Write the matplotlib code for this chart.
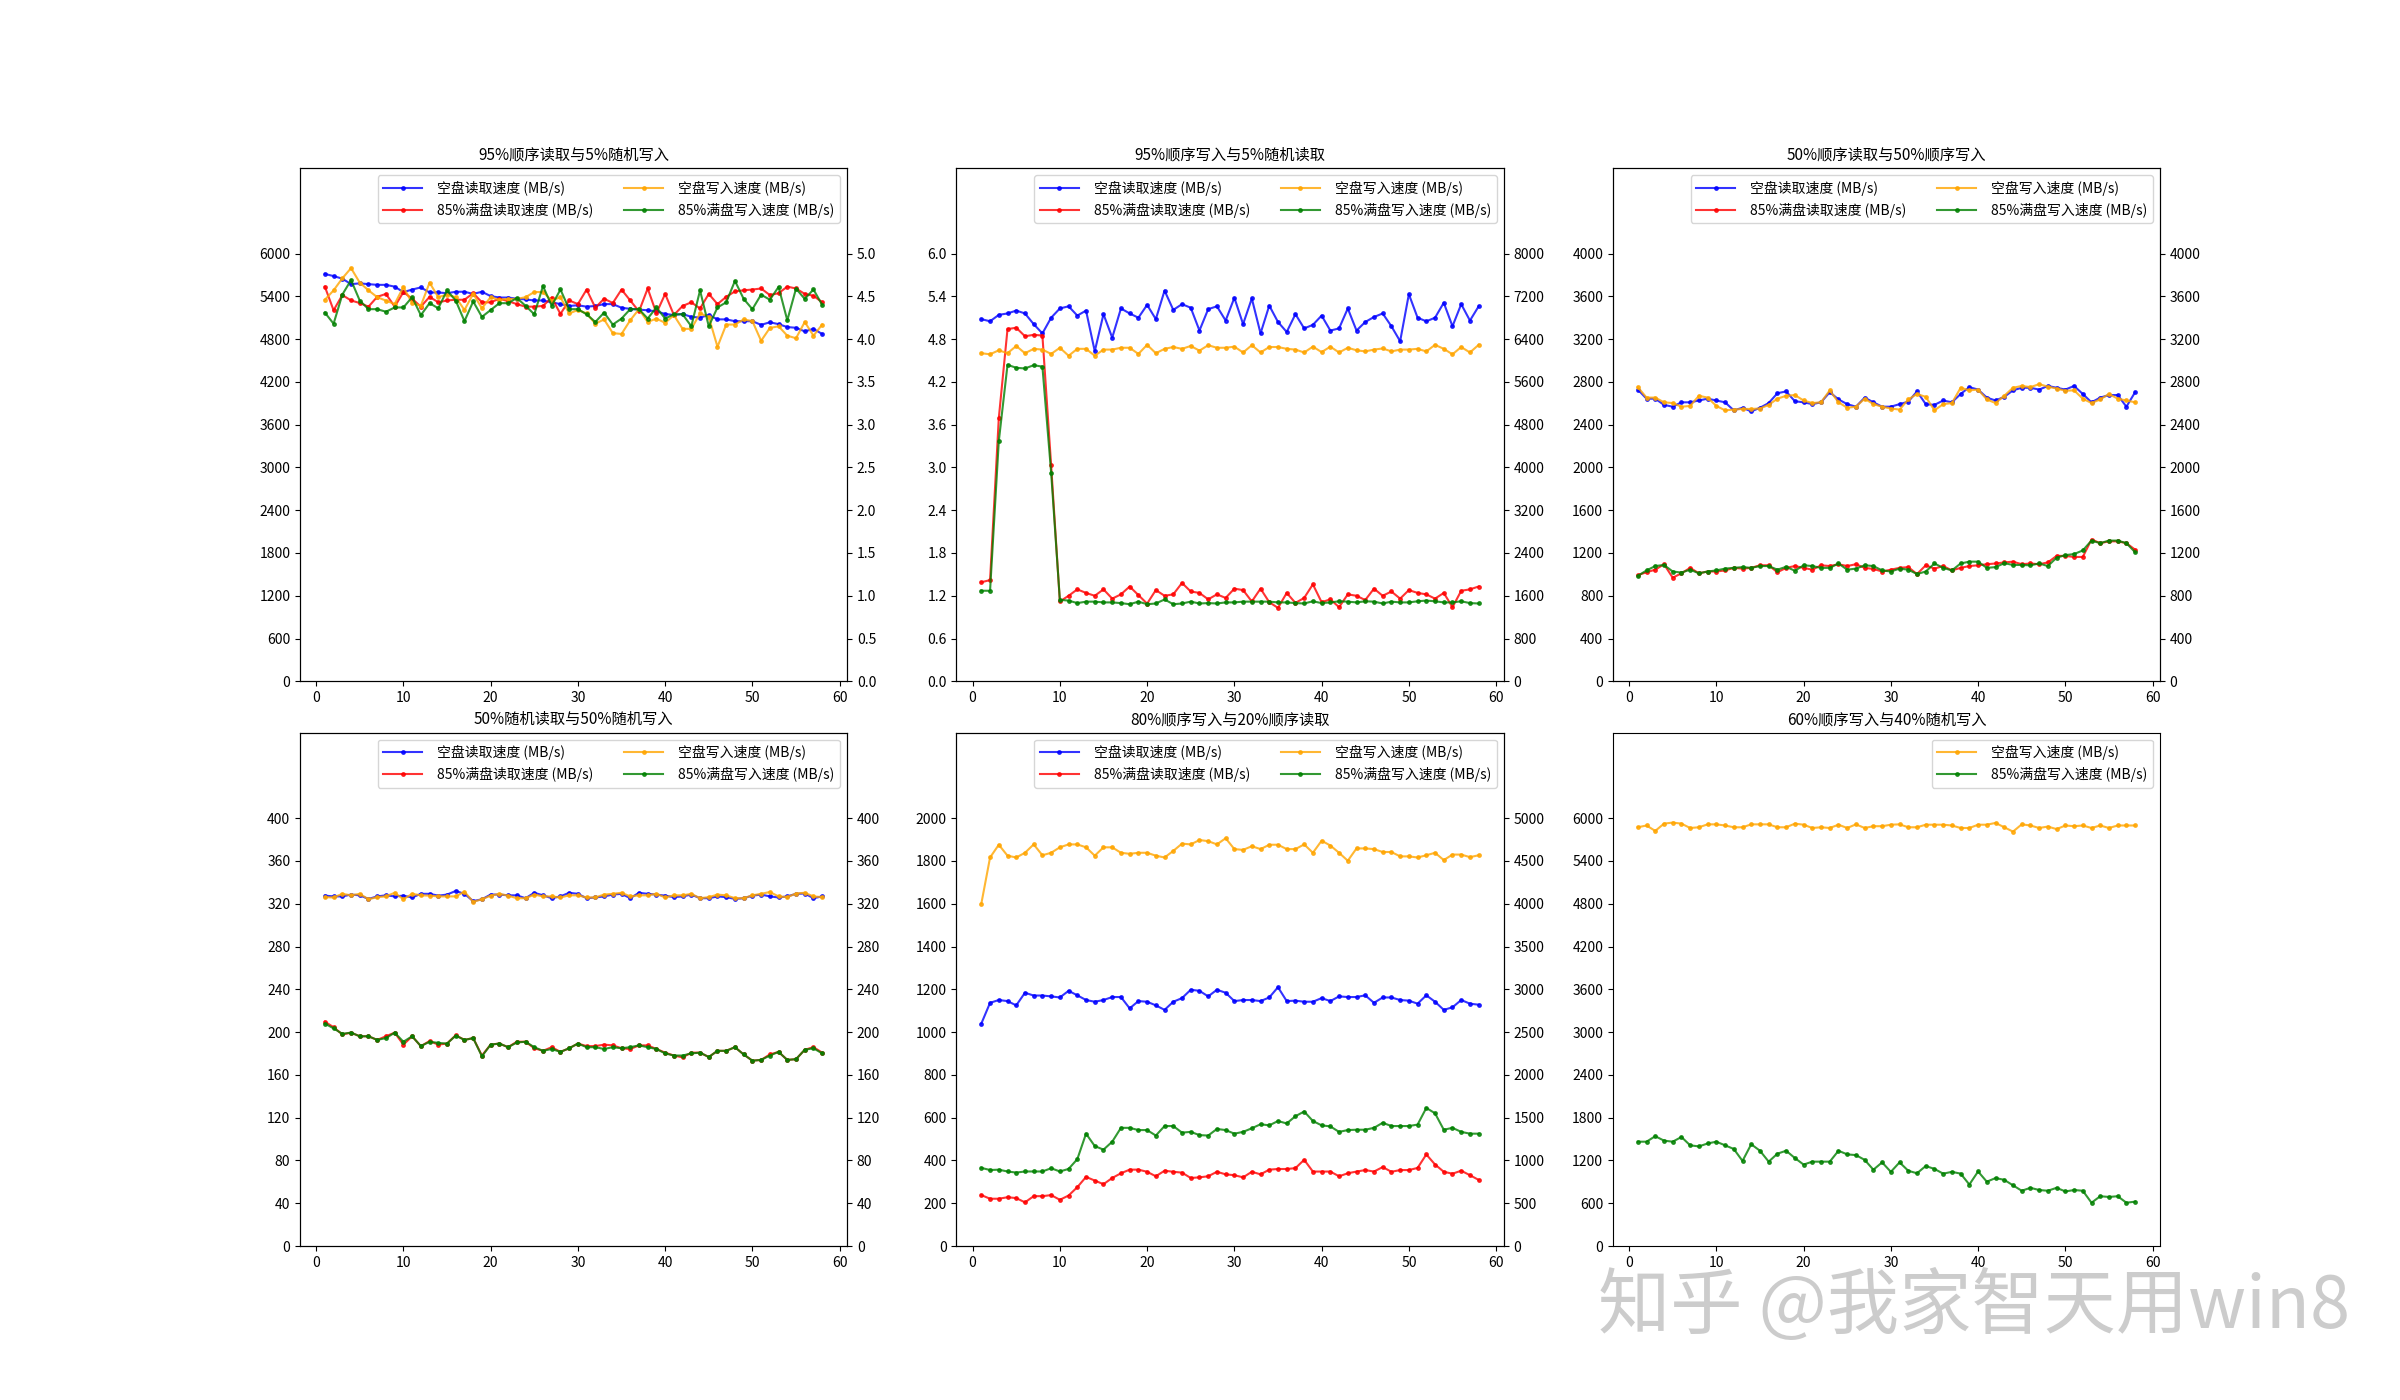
#SSD read / write speed over 58 test rounds, six mixed workloads

import numpy as np
from matplotlib import pyplot as plt

plt.rcParams['font.family'] = ['Noto Sans CJK SC', 'DejaVu Sans']
plt.rcParams['axes.unicode_minus'] = False

rounds = list(range(1, 59))

label_empty_read = "空盘读取速度 (MB/s)"
label_full_read = "85%满盘读取速度 (MB/s)"
label_empty_write = "空盘写入速度 (MB/s)"
label_full_write = "85%满盘写入速度 (MB/s)"

titles = ["95%顺序读取与5%随机写入", "95%顺序写入与5%随机读取", "50%顺序读取与50%顺序写入",
          "50%随机读取与50%随机写入", "80%顺序写入与20%顺序读取", "60%顺序写入与40%随机写入"]

#95% sequential read, 5% random write
p1_empty_read = [5714, 5684, 5648, 5571, 5582, 5571, 5561, 5561, 5536, 5459,
                 5495, 5525, 5454, 5454, 5444, 5464, 5464, 5434, 5464, 5403,
                 5383, 5383, 5367, 5357, 5342, 5342, 5316, 5291, 5265, 5275,
                 5255, 5265, 5291, 5291, 5240, 5224, 5214, 5204, 5189, 5153,
                 5138, 5153, 5112, 5102, 5138, 5077, 5077, 5051, 5051, 5051,
                 5000, 5036, 5010, 4969, 4959, 4908, 4944, 4872]
p1_full_read = [5536, 5204, 5418, 5342, 5306, 5255, 5393, 5434, 5255, 5459,
                5367, 5255, 5393, 5316, 5342, 5352, 5352, 5444, 5316, 5316,
                5367, 5332, 5291, 5255, 5255, 5265, 5383, 5153, 5342, 5291,
                5495, 5240, 5367, 5306, 5495, 5342, 5189, 5510, 5163, 5434,
                5138, 5265, 5316, 5230, 5434, 5291, 5393, 5469, 5485, 5495,
                5510, 5418, 5444, 5536, 5510, 5434, 5408, 5316]
p1_empty_write = [4.46, 4.57, 4.71, 4.83, 4.66, 4.57, 4.49, 4.45, 4.41, 4.61,
                  4.42, 4.39, 4.66, 4.49, 4.52, 4.49, 4.34, 4.53, 4.36, 4.49,
                  4.46, 4.47, 4.47, 4.49, 4.55, 4.55, 4.45, 4.49, 4.30, 4.34,
                  4.30, 4.18, 4.23, 4.07, 4.06, 4.22, 4.35, 4.20, 4.24, 4.19,
                  4.28, 4.12, 4.12, 4.30, 4.26, 3.91, 4.17, 4.17, 4.23, 4.21,
                  3.98, 4.13, 4.15, 4.04, 4.01, 4.20, 4.04, 4.17]
p1_full_write = [4.31, 4.18, 4.52, 4.69, 4.45, 4.35, 4.35, 4.32, 4.37, 4.37,
                 4.49, 4.28, 4.42, 4.36, 4.57, 4.45, 4.21, 4.44, 4.26, 4.34,
                 4.42, 4.42, 4.48, 4.39, 4.29, 4.62, 4.39, 4.58, 4.35, 4.35,
                 4.29, 4.20, 4.31, 4.17, 4.24, 4.35, 4.35, 4.24, 4.37, 4.24,
                 4.29, 4.29, 4.15, 4.57, 4.15, 4.37, 4.43, 4.68, 4.47, 4.35,
                 4.52, 4.46, 4.61, 4.22, 4.59, 4.47, 4.58, 4.40]

#95% sequential write, 5% random read
p2_empty_read = [5.08, 5.05, 5.14, 5.16, 5.20, 5.16, 5.01, 4.88, 5.10, 5.23,
                 5.26, 5.13, 5.20, 4.63, 5.15, 4.82, 5.23, 5.16, 5.10, 5.28,
                 5.08, 5.48, 5.21, 5.29, 5.24, 4.92, 5.22, 5.26, 5.06, 5.38,
                 5.01, 5.37, 4.88, 5.27, 5.04, 4.90, 5.15, 4.95, 5.00, 5.13,
                 4.92, 4.95, 5.23, 4.92, 5.04, 5.11, 5.16, 4.98, 4.77, 5.43,
                 5.10, 5.05, 5.10, 5.31, 4.98, 5.29, 5.06, 5.26]
p2_full_read = [1.39, 1.42, 3.69, 4.94, 4.96, 4.84, 4.86, 4.85, 3.03, 1.12,
                1.20, 1.29, 1.24, 1.20, 1.29, 1.16, 1.22, 1.33, 1.21, 1.09,
                1.28, 1.20, 1.22, 1.38, 1.26, 1.24, 1.15, 1.22, 1.17, 1.30,
                1.28, 1.12, 1.30, 1.11, 1.03, 1.24, 1.10, 1.17, 1.36, 1.11,
                1.15, 1.04, 1.22, 1.20, 1.14, 1.30, 1.20, 1.26, 1.16, 1.28,
                1.24, 1.22, 1.16, 1.24, 1.04, 1.27, 1.29, 1.33]
p2_empty_write = [6136, 6116, 6191, 6136, 6272, 6136, 6218, 6204, 6123, 6238,
                  6089, 6218, 6218, 6089, 6204, 6204, 6238, 6238, 6123, 6293,
                  6136, 6218, 6252, 6218, 6272, 6184, 6286, 6238, 6238, 6259,
                  6150, 6286, 6150, 6252, 6252, 6218, 6204, 6150, 6259, 6157,
                  6259, 6150, 6238, 6191, 6170, 6204, 6225, 6170, 6204, 6204,
                  6218, 6170, 6293, 6218, 6116, 6252, 6150, 6293]
p2_full_write = [1694, 1694, 4490, 5919, 5864, 5851, 5912, 5885, 3905, 1524,
                 1510, 1463, 1490, 1490, 1476, 1476, 1463, 1442, 1490, 1442,
                 1456, 1531, 1442, 1456, 1490, 1456, 1463, 1456, 1476, 1476,
                 1490, 1490, 1490, 1490, 1476, 1476, 1463, 1456, 1497, 1463,
                 1476, 1497, 1490, 1476, 1497, 1490, 1456, 1490, 1476, 1476,
                 1497, 1510, 1497, 1476, 1476, 1497, 1463, 1456]

#50% sequential read, 50% sequential write
p3_empty_read = [2728, 2643, 2643, 2585, 2568, 2609, 2609, 2626, 2643, 2626,
                 2609, 2534, 2558, 2524, 2558, 2602, 2694, 2711, 2619, 2609,
                 2592, 2609, 2704, 2636, 2592, 2568, 2653, 2609, 2568, 2568,
                 2592, 2615, 2711, 2592, 2585, 2626, 2609, 2687, 2751, 2728,
                 2653, 2626, 2660, 2721, 2745, 2745, 2728, 2762, 2745, 2728,
                 2762, 2687, 2609, 2653, 2677, 2677, 2568, 2704]
p3_full_read = [993, 1020, 1044, 1095, 969, 1010, 1061, 1010, 1027, 1027,
                1037, 1061, 1054, 1061, 1085, 1085, 1020, 1061, 1078, 1061,
                1044, 1085, 1078, 1095, 1078, 1095, 1061, 1051, 1027, 1044,
                1061, 1068, 1003, 1085, 1054, 1078, 1037, 1061, 1078, 1085,
                1095, 1102, 1112, 1119, 1095, 1102, 1095, 1112, 1173, 1173,
                1163, 1163, 1326, 1292, 1309, 1309, 1292, 1231]
p3_empty_write = [2751, 2653, 2653, 2609, 2602, 2568, 2575, 2670, 2653, 2575,
                  2534, 2541, 2547, 2547, 2551, 2585, 2643, 2670, 2677, 2626,
                  2602, 2609, 2721, 2609, 2558, 2568, 2643, 2592, 2568, 2551,
                  2541, 2636, 2687, 2660, 2534, 2592, 2602, 2745, 2721, 2728,
                  2636, 2602, 2670, 2745, 2762, 2751, 2779, 2755, 2738, 2717,
                  2721, 2643, 2602, 2636, 2687, 2643, 2626, 2609]
p3_full_write = [986, 1037, 1078, 1088, 1027, 1017, 1044, 1010, 1027, 1037,
                 1054, 1061, 1068, 1061, 1078, 1078, 1044, 1071, 1034, 1085,
                 1078, 1061, 1061, 1102, 1044, 1054, 1085, 1078, 1037, 1027,
                 1054, 1044, 1003, 1027, 1102, 1061, 1037, 1102, 1119, 1119,
                 1061, 1068, 1105, 1088, 1088, 1085, 1102, 1078, 1156, 1180,
                 1190, 1224, 1316, 1292, 1316, 1316, 1292, 1207]

#50% random read, 50% random write
p4_empty_read = [327.6, 326.9, 326.9, 328.6, 327.9, 324.5, 326.9, 327.9, 326.9, 327.6,
                 325.9, 329.3, 329.3, 327.6, 328.6, 332.0, 329.3, 322.5, 324.2, 328.6,
                 328.6, 327.9, 327.9, 325.2, 330.3, 327.9, 325.2, 326.9, 330.3, 329.3,
                 325.2, 325.9, 326.9, 328.6, 329.3, 325.2, 330.3, 329.3, 328.6, 327.6,
                 326.2, 326.9, 328.6, 325.2, 325.2, 326.9, 326.2, 324.5, 325.2, 327.6,
                 328.6, 326.9, 325.9, 326.9, 329.3, 329.6, 325.2, 326.9]
p4_full_read = [209.7, 204.6, 197.8, 199.5, 196.1, 196.1, 192.7, 196.1, 199.5, 188.3,
                196.1, 186.9, 191.6, 188.3, 189.3, 197.1, 192.7, 194.4, 178.1, 188.3,
                189.3, 185.9, 191.0, 191.0, 184.9, 182.5, 185.9, 181.5, 184.9, 189.3,
                186.9, 186.9, 188.3, 187.6, 184.9, 184.2, 187.6, 187.6, 184.2, 180.8,
                178.1, 176.4, 180.8, 180.8, 176.7, 182.5, 182.5, 185.9, 179.1, 173.3,
                174.0, 179.1, 181.5, 174.0, 174.7, 183.5, 185.9, 180.8]
p4_empty_write = [326.2, 325.9, 329.3, 327.9, 329.3, 324.2, 326.2, 326.9, 330.3, 324.2,
                  329.3, 327.9, 327.6, 326.9, 326.9, 326.9, 331.3, 321.8, 324.2, 327.6,
                  329.3, 327.6, 325.2, 325.2, 328.6, 326.9, 326.9, 325.9, 327.9, 327.9,
                  325.9, 325.9, 328.6, 329.3, 330.3, 326.9, 327.9, 327.9, 329.3, 325.9,
                  327.9, 327.9, 329.3, 325.2, 326.2, 328.6, 327.9, 325.2, 325.2, 327.9,
                  329.3, 331.0, 326.9, 326.2, 329.6, 330.3, 326.9, 326.2]
p4_full_write = [208.0, 203.5, 198.4, 199.5, 196.1, 196.1, 192.7, 194.4, 199.5, 191.0,
                 196.1, 186.9, 191.0, 189.9, 189.3, 196.7, 192.7, 194.4, 177.4, 188.3,
                 189.3, 185.9, 190.3, 191.0, 185.9, 182.5, 184.2, 181.5, 184.9, 189.3,
                 185.9, 185.9, 184.2, 185.9, 184.9, 185.9, 187.6, 185.9, 184.2, 180.1,
                 178.1, 178.1, 180.1, 180.8, 176.7, 182.5, 182.5, 185.9, 179.1, 173.3,
                 174.0, 178.1, 181.5, 174.0, 174.7, 183.5, 184.9, 180.1]

#80% sequential write, 20% sequential read
p5_empty_read = [1040, 1137, 1150, 1145, 1125, 1184, 1171, 1171, 1167, 1162,
                 1193, 1172, 1150, 1142, 1150, 1164, 1164, 1111, 1145, 1142,
                 1125, 1104, 1142, 1159, 1198, 1193, 1167, 1198, 1184, 1145,
                 1150, 1150, 1145, 1162, 1210, 1145, 1147, 1142, 1142, 1159,
                 1145, 1167, 1164, 1164, 1172, 1137, 1162, 1162, 1150, 1147,
                 1133, 1172, 1142, 1104, 1116, 1150, 1133, 1128]
p5_full_read = [238, 221, 221, 228, 224, 204, 233, 233, 238, 216,
                236, 275, 323, 306, 289, 318, 340, 357, 357, 347,
                326, 352, 347, 343, 318, 321, 326, 347, 335, 331,
                321, 347, 335, 357, 360, 360, 364, 403, 348, 348,
                348, 326, 340, 348, 355, 348, 369, 347, 355, 355,
                365, 428, 381, 347, 338, 352, 331, 309]
p5_empty_write = [4002, 4541, 4690, 4562, 4541, 4596, 4694, 4567, 4596, 4660,
                  4694, 4694, 4660, 4562, 4660, 4660, 4596, 4584, 4596, 4596,
                  4562, 4541, 4618, 4703, 4694, 4745, 4732, 4694, 4766, 4639,
                  4630, 4673, 4639, 4690, 4690, 4639, 4639, 4694, 4596, 4737,
                  4681, 4596, 4503, 4647, 4647, 4639, 4605, 4605, 4554, 4554,
                  4541, 4567, 4596, 4511, 4575, 4575, 4545, 4567]
p5_full_write = [913, 888, 892, 871, 858, 871, 871, 871, 909, 871,
                 901, 1015, 1313, 1168, 1126, 1219, 1381, 1381, 1355, 1355,
                 1291, 1402, 1402, 1325, 1334, 1296, 1291, 1368, 1355, 1313,
                 1334, 1376, 1423, 1410, 1461, 1432, 1517, 1572, 1461, 1410,
                 1398, 1334, 1355, 1359, 1359, 1381, 1440, 1402, 1402, 1402,
                 1419, 1614, 1551, 1359, 1381, 1334, 1313, 1313]

#60% sequential write, 40% random write
p6_empty_write = [5873, 5898, 5822, 5924, 5939, 5924, 5863, 5873, 5914, 5914,
                  5898, 5873, 5873, 5914, 5914, 5914, 5873, 5873, 5924, 5909,
                  5863, 5873, 5863, 5909, 5863, 5914, 5863, 5888, 5888, 5909,
                  5914, 5873, 5873, 5909, 5909, 5909, 5898, 5863, 5863, 5909,
                  5909, 5934, 5873, 5812, 5914, 5898, 5863, 5883, 5847, 5898,
                  5888, 5898, 5863, 5898, 5863, 5898, 5898, 5898]
p6_full_write = [1463, 1463, 1540, 1478, 1463, 1529, 1412, 1397, 1438, 1463,
                 1412, 1361, 1193, 1427, 1336, 1183, 1295, 1336, 1234, 1142,
                 1183, 1183, 1183, 1336, 1285, 1275, 1208, 1070, 1173, 1040,
                 1173, 1055, 1020, 1122, 1081, 1015, 1040, 1015, 862, 1045,
                 902, 953, 928, 851, 775, 816, 785, 775, 816, 765,
                 785, 775, 607, 698, 688, 698, 607, 622]

legend_style = dict(loc='upper right', fontsize=10, handlelength=2.8, handletextpad=1.1)


def line(ax, y, color, label):
    return ax.plot(rounds, y, color=color, marker='.', markersize=5, alpha=0.8, label=label)[0]


def panel(ax, title, reads, writes, read_top, write_top):
    #reads on the left axis, writes on the right one, both with 11 ticks
    ax2 = ax.twinx()
    h1 = line(ax, reads[0], 'blue', label_empty_read)
    h2 = line(ax, reads[1], 'red', label_full_read)
    h3 = line(ax2, writes[0], 'orange', label_empty_write)
    h4 = line(ax2, writes[1], 'green', label_full_write)
    ax.set_ylim(0, read_top * 1.2)
    ax.set_yticks(np.linspace(0, read_top, 11))
    ax2.set_ylim(0, write_top * 1.2)
    ax2.set_yticks(np.linspace(0, write_top, 11))
    ax.set_title(title, fontsize=11)
    ax.legend(handles=[h1, h2, h3, h4], ncol=2, columnspacing=2.2, **legend_style)


fig, axes = plt.subplots(2, 3, figsize=(24, 14), dpi=100)
plt.subplots_adjust(hspace=0.1)

panel(axes[0, 0], titles[0], (p1_empty_read, p1_full_read), (p1_empty_write, p1_full_write), 6000, 5.0)
panel(axes[0, 1], titles[1], (p2_empty_read, p2_full_read), (p2_empty_write, p2_full_write), 6.0, 8000)
panel(axes[0, 2], titles[2], (p3_empty_read, p3_full_read), (p3_empty_write, p3_full_write), 4000, 4000)
panel(axes[1, 0], titles[3], (p4_empty_read, p4_full_read), (p4_empty_write, p4_full_write), 400, 400)
panel(axes[1, 1], titles[4], (p5_empty_read, p5_full_read), (p5_empty_write, p5_full_write), 2000, 5000)

#last workload has only write speeds, single axis
ax = axes[1, 2]
line(ax, p6_empty_write, 'orange', label_empty_write)
line(ax, p6_full_write, 'green', label_full_write)
ax.set_ylim(0, 7200)
ax.set_yticks(np.linspace(0, 6000, 11))
ax.set_title(titles[5], fontsize=11)
ax.legend(**legend_style)

for a in axes.flat:
    a.set_xticks(range(0, 61, 10))

#watermark
fig.text(0.666, 0.066, "知乎 @我家智天用win8", fontsize=52, color='#cccccc', va='center', ha='left')

plt.savefig("out.png")
